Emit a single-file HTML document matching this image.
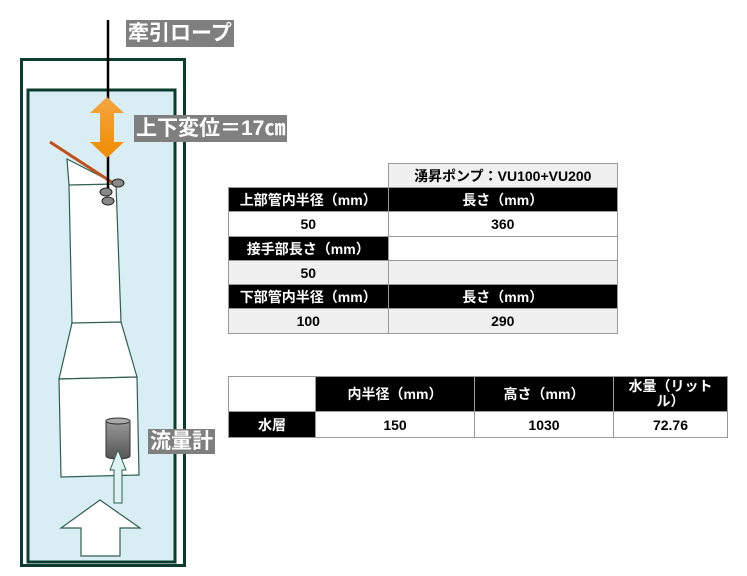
<!DOCTYPE html>
<html><head><meta charset="utf-8"><style>
body{margin:0;width:747px;height:576px;background:#fff;position:relative;overflow:hidden;font-family:"Liberation Sans","Noto Sans CJK JP",sans-serif;font-weight:bold}
.lbl{position:absolute;background:#7f7f7f;color:#fff;font-size:21px;line-height:27px;padding:0 2px;white-space:nowrap}
table{position:absolute;border-collapse:collapse;font-size:14px;text-align:center}
td{padding:0;border:1px solid #999;white-space:nowrap}
.k{background:#000;color:#fff}
.g{background:#f0f0f0}
.w{background:#fff}
</style></head><body>
<svg width="747" height="576" style="position:absolute;left:0;top:0">
<rect x="21.5" y="59.5" width="163" height="506" fill="#fff" stroke="#0b3d2e" stroke-width="3"/>
<rect x="28" y="90" width="147" height="472" fill="#d8eef4" stroke="#0b3d2e" stroke-width="3"/>
<polygon points="67,159 116,184 121,322 72,324 69,185" fill="#fff" stroke="#2f5f4f" stroke-width="1.2"/>
<line x1="69" y1="185" x2="116" y2="184" stroke="#2f5f4f" stroke-width="1.2"/>
<polygon points="72,323 121,322 137,377 59,379" fill="#fff" stroke="#2f5f4f" stroke-width="1.2"/>
<polygon points="59,379 137,377 139,475 61,477" fill="#fff" stroke="#2f5f4f" stroke-width="1.2"/>
<defs><linearGradient id="cy" x1="0" y1="0" x2="0" y2="1"><stop offset="0" stop-color="#999"/><stop offset="1" stop-color="#555"/></linearGradient>
<linearGradient id="or" x1="0" y1="0" x2="0" y2="1"><stop offset="0" stop-color="#f4a640"/><stop offset="1" stop-color="#f08c00"/></linearGradient></defs>
<path d="M106,421 L106,456 A12,3 0 0 0 130,456 L130,421 Z" fill="url(#cy)" stroke="#333"/>
<ellipse cx="118" cy="421" rx="12" ry="3" fill="#aaa" stroke="#333"/>
<polygon points="118,450 126,470 122,470 122,503 114,503 114,470 110,470" fill="#dff3f3" stroke="#2f5f4f"/>
<polygon points="100,500 140,528 120,528 120,556 81,556 81,528 61,528" fill="#fff" stroke="#2f5f4f" stroke-width="1.2"/>
<line x1="50" y1="142" x2="113" y2="183" stroke="#c0501a" stroke-width="3"/>
<line x1="108" y1="20" x2="108" y2="188" stroke="#000" stroke-width="2.5"/>
<polygon points="107,97 124,113 114,113 114,142 124,142 107,158 90,142 100,142 100,113 90,113" fill="url(#or)"/>
<ellipse cx="118" cy="183" rx="6" ry="4" fill="#888" stroke="#222"/>
<ellipse cx="106" cy="192" rx="6" ry="4" fill="#888" stroke="#222"/>
<ellipse cx="108" cy="201" rx="6" ry="4" fill="#888" stroke="#222"/>
</svg>
<div class="lbl" style="left:126px;top:20px">牽引ロープ</div>
<div class="lbl" style="left:134px;top:115px">上下変位＝17㎝</div>
<div class="lbl" style="left:148px;top:429px;line-height:25px">流量計</div>
<table style="left:228px;top:163px;width:390px">
<tr style="height:24px"><td style="border:none;width:159px"></td><td class="g">湧昇ポンプ：VU100+VU200</td></tr>
<tr style="height:24px" class="k"><td>上部管内半径（mm）</td><td>長さ（mm）</td></tr>
<tr style="height:25px"><td>50</td><td>360</td></tr>
<tr style="height:24px"><td class="k">接手部長さ（mm）</td><td class="w"></td></tr>
<tr style="height:24px" class="g"><td>50</td><td></td></tr>
<tr style="height:24px" class="k"><td>下部管内半径（mm）</td><td>長さ（mm）</td></tr>
<tr style="height:25px" class="g"><td>100</td><td>290</td></tr>
</table>
<table style="left:228px;top:376px;width:500px">
<tr style="height:35px"><td style="width:86px"></td><td class="k" style="width:158px">内半径（mm）</td><td class="k" style="width:138px">高さ（mm）</td><td class="k" style="line-height:15px">水量（リット<br>ル）</td></tr>
<tr style="height:26px"><td class="k">水層</td><td>150</td><td>1030</td><td>72.76</td></tr>
</table>
</body></html>
